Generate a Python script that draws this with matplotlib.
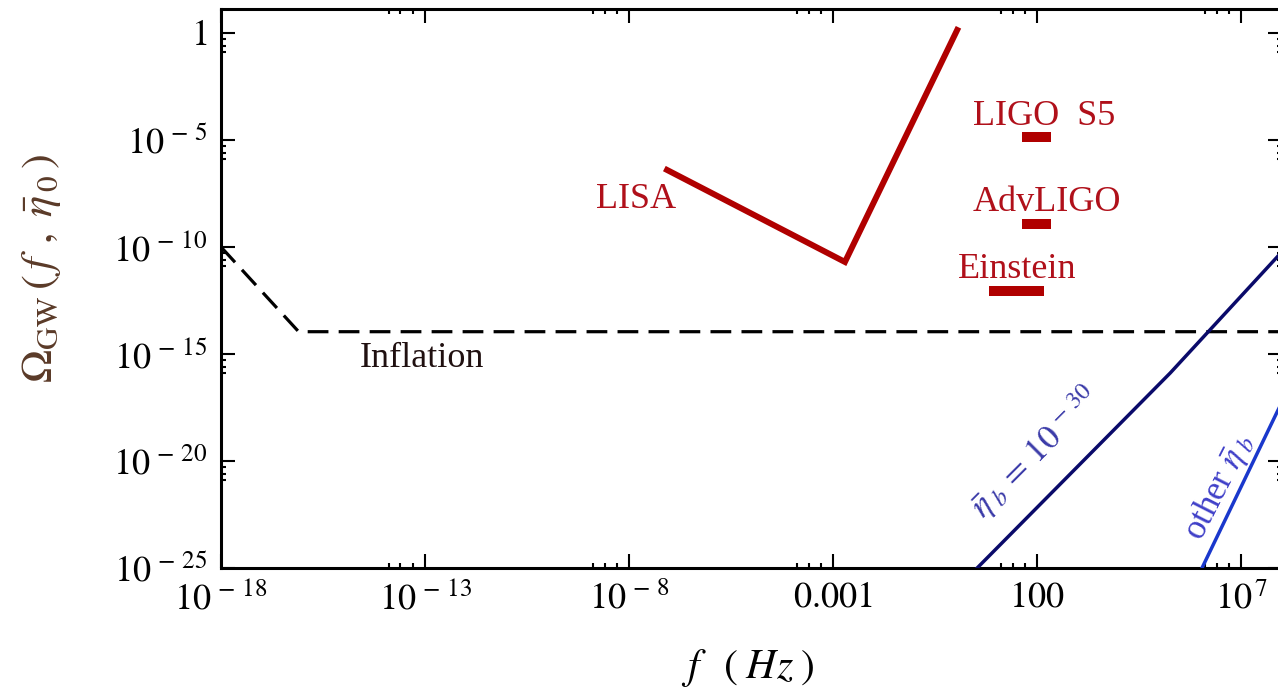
import matplotlib
matplotlib.use("Agg")
import matplotlib.pyplot as plt
import numpy as np

# ---------------- data ----------------
inflation_f = [1e-18, 8e-17, 1e8]
inflation_omega = [1e-10, 1.1e-14, 1.1e-14]

lisa_f = [10**-7.07, 10**-2.71, 10**0.04]
lisa_omega = [10**-6.40, 10**-10.70, 10**0.14]

ligo_s5_f = [43, 220]
ligo_s5_omega = [1.4e-5, 1.4e-5]

advligo_f = [43, 220]
advligo_omega = [1.2e-9, 1.2e-9]

einstein_f = [6.6, 148]
einstein_omega = [8.7e-13, 8.7e-13]

eta30_f = [10**0.53, 10**5.26, 10**7.88, 10**8.3]
eta30_omega = [1e-25, 10**-15.89, 10**-10.47, 10**-9.6]

other_f = [10**6.04, 10**7.88, 10**8.3]
other_omega = [1e-25, 10**-17.71, 10**-16.1]

xtick_vals = [1e-18, 1e-13, 1e-8, 1e-3, 1e2, 1e7]
xtick_labels = [r'$10^{\,-\,18}$', r'$10^{\,-\,13}$', r'$10^{\,-\,8}$', r'$0.001$', r'$100$', r'$10^{\,7}$']
ytick_vals = [1e-25, 1e-20, 1e-15, 1e-10, 1e-5, 1]
ytick_labels = [r'$10^{\,-\,25}$', r'$10^{\,-\,20}$', r'$10^{\,-\,15}$', r'$10^{\,-\,10}$', r'$10^{\,-\,5}$', r'$1$']

# ---------------- style ----------------
plt.rcParams['font.family'] = ['Liberation Serif', 'DejaVu Serif']
plt.rcParams['mathtext.fontset'] = 'stix'

W, H = 1278, 688
fig = plt.figure(figsize=(W / 100, H / 100), dpi=100)
L, R, T, B = 221, 1282, 9, 568
ax = fig.add_axes([L / W, 1 - B / H, (R - L) / W, (B - T) / H])
ax.set_xscale('log')
ax.set_yscale('log')
ax.set_xlim(1e-18, 1e8)
ax.set_ylim(1e-25, 10**1.12)

red = '#b00000'
navy = '#0a0a6a'
blue = '#1a38cc'

ax.plot(inflation_f, inflation_omega, color='black', lw=2.3, dashes=(6.5, 3.2), zorder=2)
ax.plot(lisa_f, lisa_omega, color=red, lw=4.3, solid_joinstyle='miter', zorder=3)
for fx, om in [(ligo_s5_f, ligo_s5_omega), (advligo_f, advligo_omega), (einstein_f, einstein_omega)]:
    ax.plot(fx, om, color=red, lw=7.2, solid_capstyle='butt', zorder=3)
ax.plot(eta30_f, eta30_omega, color=navy, lw=2.5, zorder=4)
ax.plot(other_f, other_omega, color=blue, lw=2.5, zorder=4)

txt_red = '#b0101a'
fs = 26
ax.text(10**-7.83, 10**-7.76, 'LISA', color=txt_red, fontsize=fs, ha='center', va='center')
ax.text(10**2.17, 10**-3.88, 'LIGO  S5', color=txt_red, fontsize=fs, ha='center', va='center')
ax.text(10**2.25, 10**-7.90, 'AdvLIGO', color=txt_red, fontsize=fs, ha='center', va='center')
ax.text(10**1.51, 10**-11.07, 'Einstein', color=txt_red, fontsize=fs, ha='center', va='center')
ax.text(10**-13.07, 10**-15.23, 'Inflation', color='#201010', fontsize=fs, ha='center', va='center')
ax.text(10**1.95, 10**-19.58, r'$\bar{\eta}_{\;b}\,=\,10^{\,-\,30}$', color='#3a3aa8', fontsize=25,
        ha='center', va='center', rotation=45, rotation_mode='anchor')
ax.text(10**6.45, 10**-21.2, r'other $\bar{\eta}_{\;b}$', color='#3f3fc8', fontsize=25,
        ha='center', va='center', rotation=63, rotation_mode='anchor')

# ticks
ax.set_xticks(xtick_vals)
ax.set_xticklabels(xtick_labels)
ax.set_yticks(ytick_vals)
ax.set_yticklabels(ytick_labels)
minor_fac = [0.5, 0.25, 0.13]
ax.set_xticks([v * m for v in xtick_vals for m in minor_fac if v * m > 1e-18], minor=True)
ax.set_yticks([v * m for v in ytick_vals for m in minor_fac if v * m > 1e-25], minor=True)
ax.xaxis.set_minor_formatter(matplotlib.ticker.NullFormatter())
ax.yaxis.set_minor_formatter(matplotlib.ticker.NullFormatter())
ax.tick_params(which='major', direction='in', length=10, width=1.5, labelsize=26,
               top=True, right=True, pad=10)
ax.tick_params(which='minor', direction='in', length=3.5, width=1.5, top=True, right=True)
for s in ax.spines.values():
    s.set_linewidth(2.2)

fig.text(748 / W, 1 - 668 / H, r'$f\;\;\;(\;Hz\;)$', fontsize=30, ha='center', va='center')
fig.text(42 / W, 1 - 268 / H, r'$\Omega_{\rm GW}\,(\,f\;\,,\;\bar{\eta}_{\,0}\,)$', fontsize=32,
         ha='center', va='center', rotation=90, color='#5a3a28')

fig.savefig('out.png', dpi=100)
